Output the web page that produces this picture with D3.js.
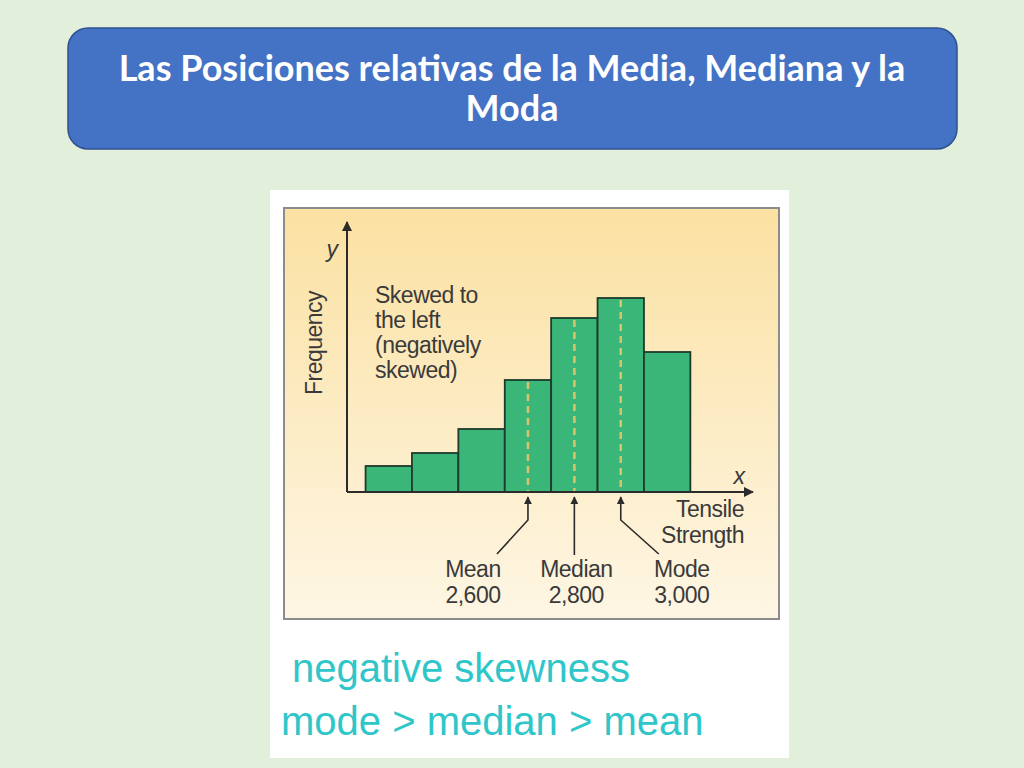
<!DOCTYPE html>
<html>
<head>
<meta charset="utf-8">
<script src="https://cdn.jsdelivr.net/npm/d3@7"></script>
<style>
  html, body { margin: 0; padding: 0; background: #e2efda; }
  svg { display: block; }
</style>
</head>
<body>
<svg id="chart" width="1024" height="768"></svg>
<script>
// ---- data ----
const binStarts = [1900, 2100, 2300, 2500, 2700, 2900, 3100];
const binWidth = 200;
const frequencies = [26, 39, 63, 112, 174, 194, 140];
const statNames = ["Mean", "Median", "Mode"];
const statValues = [2600, 2800, 3000];
const statLabels = ["2,600", "2,800", "3,000"];
const titleLines = ["Las Posiciones relativas de la Media, Mediana y la", "Moda"];
const noteLines = ["Skewed to", "the left", "(negatively", "skewed)"];
const xTitleLines = ["Tensile", "Strength"];
const bottomLines = ["negative skewness", "mode > median > mean"];

const svg = d3.select("#chart");
svg.append("rect").attr("width", 1024).attr("height", 768).attr("fill", "#e2efda");

// title box
svg.append("rect").attr("x", 68).attr("y", 28).attr("width", 889).attr("height", 121)
  .attr("rx", 20).attr("fill", "#4472c4").attr("stroke", "#2f528f").attr("stroke-width", 1.5);
svg.selectAll("text.title").data(titleLines).join("text").attr("class", "title")
  .attr("x", 512).attr("y", (d, i) => 81 + i * 40)
  .attr("text-anchor", "middle").attr("fill", "#ffffff")
  .style("font-family", "Lato, 'Open Sans', sans-serif").style("font-weight", "bold")
  .style("font-size", "36px").text(d => d);

// image area
svg.append("rect").attr("x", 270).attr("y", 190).attr("width", 519).attr("height", 568).attr("fill", "#ffffff");

const defs = svg.append("defs");
const grad = defs.append("linearGradient").attr("id", "bg").attr("x1", 0).attr("y1", 0).attr("x2", 0).attr("y2", 1);
grad.append("stop").attr("offset", "0%").attr("stop-color", "#fbe1a2");
grad.append("stop").attr("offset", "100%").attr("stop-color", "#fef6e4");
defs.append("marker").attr("id", "ah").attr("viewBox", "0 0 10 10").attr("refX", 9).attr("refY", 5)
  .attr("markerWidth", 5).attr("markerHeight", 5).attr("orient", "auto-start-reverse")
  .append("path").attr("d", "M0,0 L10,5 L0,10 z").attr("fill", "#2b2b2b");

svg.append("rect").attr("x", 284).attr("y", 208).attr("width", 495).attr("height", 411)
  .attr("fill", "url(#bg)").attr("stroke", "#8c8c8c").attr("stroke-width", 2);

// scales
const x = d3.scaleLinear().domain([1820, 3570]).range([347, 753]);
const y = d3.scaleLinear().domain([0, 270]).range([492, 222]);

// bars
svg.selectAll("rect.bar").data(binStarts).join("rect").attr("class", "bar")
  .attr("x", d => x(d)).attr("width", d => x(d + binWidth) - x(d))
  .attr("y", (d, i) => y(frequencies[i])).attr("height", (d, i) => y(0) - y(frequencies[i]))
  .attr("fill", "#3bb679").attr("stroke", "#1d3a2b").attr("stroke-width", 1.8);

// dashed lines at stats
svg.selectAll("line.dash").data(statValues).join("line").attr("class", "dash")
  .attr("x1", d => x(d)).attr("x2", d => x(d))
  .attr("y1", d => y(frequencies[binStarts.findIndex(b => d >= b && d < b + binWidth)]) + 2)
  .attr("y2", y(0))
  .attr("stroke", "#d9c46a").attr("stroke-width", 2.5).attr("stroke-dasharray", "7,5");

// axes
const axisG = svg.append("g");
axisG.append("line").attr("x1", x.range()[0]).attr("x2", x.range()[1]).attr("y1", y(0)).attr("y2", y(0))
  .attr("stroke", "#2b2b2b").attr("stroke-width", 2).attr("marker-end", "url(#ah)");
axisG.append("line").attr("x1", x.range()[0]).attr("x2", x.range()[0]).attr("y1", y(0)).attr("y2", y.range()[1])
  .attr("stroke", "#2b2b2b").attr("stroke-width", 2).attr("marker-end", "url(#ah)");

const txt = (sel) => sel.attr("fill", "#3a3a3a")
  .style("font-family", "'Liberation Sans', Arial, sans-serif").style("font-size", "23px")
  .style("letter-spacing", "-0.5px");

svg.append("text").attr("x", 332).attr("y", 257).attr("text-anchor", "middle")
  .call(txt).style("font-style", "italic").style("font-size", "23px").text("y");
svg.append("text").attr("x", 739).attr("y", 484).attr("text-anchor", "middle")
  .call(txt).style("font-style", "italic").style("font-size", "23px").text("x");
svg.append("text").attr("transform", "translate(322,343) rotate(-90)").attr("text-anchor", "middle")
  .call(txt).text("Frequency");

svg.selectAll("text.note").data(noteLines).join("text").attr("class", "note")
  .attr("x", 375).attr("y", (d, i) => 303 + i * 25).call(txt).text(d => d);
svg.selectAll("text.xt").data(xTitleLines).join("text").attr("class", "xt")
  .attr("x", 744).attr("y", (d, i) => 517 + i * 26).attr("text-anchor", "end").call(txt).text(d => d);

// pointers
const offsets = [-31, 0, 38];
const labelDx = [-55, 2, 61];
statValues.forEach((v, i) => {
  const sx = x(v);
  const pts = i === 1
    ? [[sx, 555], [sx, 497]]
    : [[sx + offsets[i], 554], [sx, 520], [sx, 497]];
  svg.append("path").attr("d", d3.line()(pts)).attr("fill", "none")
    .attr("stroke", "#2b2b2b").attr("stroke-width", 1.6).attr("marker-end", "url(#ah)");
  svg.append("text").attr("x", sx + labelDx[i]).attr("y", 577).attr("text-anchor", "middle").call(txt).text(statNames[i]);
  svg.append("text").attr("x", sx + labelDx[i]).attr("y", 603).attr("text-anchor", "middle").call(txt).text(statLabels[i]);
});

// bottom text
svg.selectAll("text.bottom").data(bottomLines).join("text").attr("class", "bottom")
  .attr("x", (d, i) => i === 0 ? 292 : 281).attr("y", (d, i) => 682 + i * 53)
  .attr("fill", "#2fc6c9")
  .style("font-family", "'Liberation Sans', Arial, sans-serif").style("font-size", "40px")
  .text(d => d);
</script>
</body>
</html>
